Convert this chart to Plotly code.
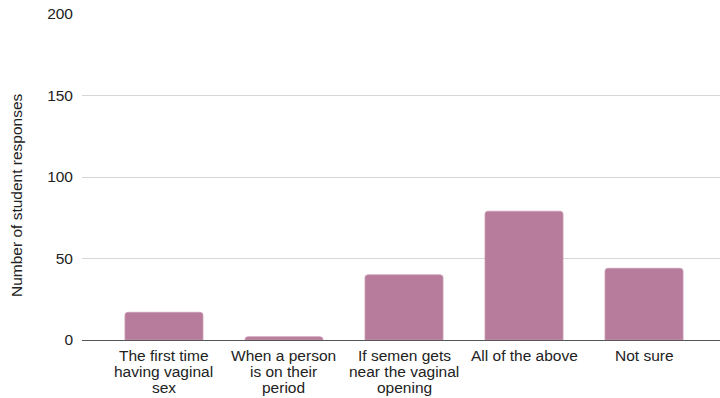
import plotly.graph_objects as go

# Survey answers and how many students picked each one
categories = [
    "The first time<br>having vaginal<br>sex",
    "When a person<br>is on their<br>period",
    "If semen gets<br>near the vaginal<br>opening",
    "All of the above",
    "Not sure",
]
responses = [17, 2, 40, 79, 44]
y_ticks = [0, 50, 100, 150, 200]

W, H = 720, 398
left, right, top, bottom = 82, 0, 14, 58
plot_h = H - top - bottom
label_size = 15.5
line_gap = 16.2       # px between wrapped category-label lines
first_line = 15.5     # px from the zero line to the first line's centre

fig = go.Figure(
    go.Bar(
        x=list(range(len(categories))),
        y=responses,
        width=0.65,
        marker=dict(color="#b77c9c", line=dict(color="#c99ab3", width=0.8)),
        hoverinfo="skip",
    )
)

# Category labels, one annotation per wrapped line for tight line spacing
annotations = []
for i, label in enumerate(categories):
    for j, line in enumerate(label.split("<br>")):
        annotations.append(
            dict(
                text=line,
                xref="x",
                yref="paper",
                x=i,
                y=-(first_line + j * line_gap) / plot_h,
                xanchor="center",
                yanchor="middle",
                showarrow=False,
                font=dict(size=label_size, color="#222222"),
            )
        )

annotations.append(
    dict(
        text="Number of student responses",
        xref="paper",
        yref="paper",
        x=(16 - left) / (W - left - right),
        y=(H - bottom - 195) / plot_h,
        xanchor="center",
        yanchor="middle",
        textangle=-90,
        showarrow=False,
        font=dict(size=label_size, color="#222222"),
    )
)

fig.update_layout(
    width=W,
    height=H,
    margin=dict(l=left, r=right, t=top, b=bottom, autoexpand=False),
    paper_bgcolor="white",
    plot_bgcolor="white",
    showlegend=False,
    barcornerradius=3,
    font=dict(family="Liberation Sans, Arial, sans-serif", size=label_size, color="#222222"),
    xaxis=dict(
        tickmode="array",
        tickvals=list(range(len(categories))),
        range=[-0.683, 4.633],
        showticklabels=False,
        showgrid=False,
        zeroline=False,
        showline=False,
        ticks="",
        fixedrange=True,
    ),
    yaxis=dict(
        range=[0, 200],
        tickmode="array",
        tickvals=y_ticks,
        ticktext=[str(v) for v in y_ticks],
        showgrid=True,
        gridcolor="#d6d6d6",
        gridwidth=1,
        zeroline=True,
        zerolinecolor="#555555",
        zerolinewidth=1.2,
        showline=False,
        ticks="",
        ticklabelstandoff=8,
        tickfont=dict(size=label_size),
        fixedrange=True,
    ),
    annotations=annotations,
)

fig.write_html("out.html")
